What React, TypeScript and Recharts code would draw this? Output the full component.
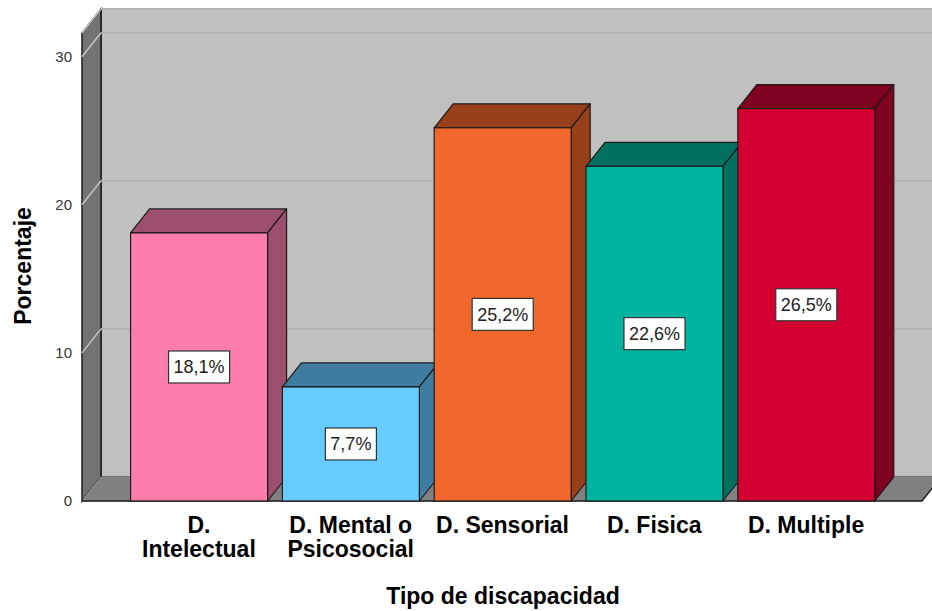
import React from "react";
import { BarChart, Bar, XAxis, YAxis, CartesianGrid, Cell, LabelList } from "recharts";

const categories = ["D. Intelectual", "D. Mental o Psicosocial", "D. Sensorial", "D. Fisica", "D. Multiple"];
const percentages = [18.1, 7.7, 25.2, 22.6, 26.5];
const yTicks = [0, 10, 20, 30];

const frontColors = ["#FF7DAD", "#66CCFF", "#F2682C", "#00B4A0", "#D50032"];
const darkColors = ["#9C506E", "#3E7DA0", "#983F1B", "#00705F", "#80001F"];

const data = categories.map((name, i) => ({ name, value: percentages[i] }));

const W = 932;
const H = 611;
const PLOT_LEFT = 82;
const PLOT_RIGHT = 922;
const PLOT_TOP = 33;
const PLOT_BOTTOM = 501;
const DX = 19;
const DY = 24;
const FONT = "'Liberation Sans', Arial, sans-serif";

let ctx: CanvasRenderingContext2D | null = null;
const measure = (s: string, font: string) => {
  if (!ctx) ctx = document.createElement("canvas").getContext("2d");
  if (!ctx) return s.length * 10;
  ctx.font = font;
  return ctx.measureText(s).width;
};

// wrap words into lines no wider than maxW
const wrap = (s: string, font: string, maxW: number) => {
  const words = s.split(" ");
  const lines: string[] = [];
  let cur = "";
  words.forEach((w) => {
    const next = cur ? cur + " " + w : w;
    if (cur && measure(next, font) > maxW) {
      lines.push(cur);
      cur = w;
    } else {
      cur = next;
    }
  });
  if (cur) lines.push(cur);
  return lines;
};

const Bar3D = (props: any) => {
  const { x, y, width, height, index, fill } = props;
  const dark = darkColors[index];
  const stroke = "#1c1c1c";
  return (
    <g>
      <polygon
        points={`${x},${y} ${x + DX},${y - DY} ${x + width + DX},${y - DY} ${x + width},${y}`}
        fill={dark}
        stroke={stroke}
        strokeWidth={1.2}
        strokeLinejoin="round"
      />
      <polygon
        points={`${x + width},${y} ${x + width + DX},${y - DY} ${x + width + DX},${y + height - DY} ${x + width},${y + height}`}
        fill={dark}
        stroke={stroke}
        strokeWidth={1.2}
        strokeLinejoin="round"
      />
      <rect x={x} y={y} width={width} height={height} fill={fill} stroke={stroke} strokeWidth={1.2} />
    </g>
  );
};

const ValueBox = (props: any) => {
  const { x, y, width, height, value } = props;
  const label = Number(value).toFixed(1).replace(".", ",") + "%";
  const tw = measure(label, `18px ${FONT}`);
  const bw = tw + 10;
  const bh = 32;
  const cx = x + width / 2;
  const cy = y + height / 2;
  return (
    <g>
      <rect x={cx - bw / 2} y={cy - bh / 2} width={bw} height={bh} fill="#ffffff" stroke="#333" strokeWidth={1.2} />
      <text x={cx} y={cy + 6.5} textAnchor="middle" fontSize={18} fontFamily={FONT} fill="#222">
        {label}
      </text>
    </g>
  );
};

const CategoryTick = (props: any) => {
  const { x, y, payload } = props;
  const font = `bold 23px ${FONT}`;
  const lines = wrap(String(payload.value), font, 138);
  return (
    <text x={x} y={y + 16} textAnchor="middle" fontSize={23} fontWeight="bold" fontFamily={FONT} fill="#000">
      {lines.map((l, i) => (
        <tspan key={i} x={x} dy={i === 0 ? 0 : 24}>
          {l}
        </tspan>
      ))}
    </text>
  );
};

const ValueTick = (props: any) => {
  const { x, y, payload } = props;
  return (
    <text x={x} y={y + 5} textAnchor="end" fontSize={15} fontFamily={FONT} fill="#333">
      {payload.value}
    </text>
  );
};

const GridLine = (props: any) => {
  const { y1, x2 } = props;
  if (Math.abs(y1 - PLOT_BOTTOM) < 1) return <g />;
  return (
    <g>
      <line x1={PLOT_LEFT} y1={y1} x2={PLOT_LEFT + DX} y2={y1 - DY} stroke="#c4c4c4" strokeWidth={1.5} />
      <line x1={PLOT_LEFT + DX} y1={y1 - DY} x2={x2 + DX + 20} y2={y1 - DY} stroke="#b2b2b2" strokeWidth={2} />
    </g>
  );
};

const Walls = () => (
  <svg width={W} height={H} style={{ position: "absolute", left: 0, top: 0 }}>
    <polygon
      points={`${PLOT_LEFT + DX},${PLOT_TOP - DY} ${W + 20},${PLOT_TOP - DY} ${W + 20},${PLOT_BOTTOM - DY} ${PLOT_LEFT + DX},${PLOT_BOTTOM - DY}`}
      fill="#c0c0c0"
      stroke="#1c1c1c"
      strokeWidth={1.5}
    />
    <polygon
      points={`${PLOT_LEFT},${PLOT_TOP} ${PLOT_LEFT + DX},${PLOT_TOP - DY} ${PLOT_LEFT + DX},${PLOT_BOTTOM - DY} ${PLOT_LEFT},${PLOT_BOTTOM}`}
      fill="#737373"
      stroke="#1c1c1c"
      strokeWidth={1.5}
    />
    <polygon
      points={`${PLOT_LEFT},${PLOT_BOTTOM} ${PLOT_LEFT + DX},${PLOT_BOTTOM - DY} ${PLOT_RIGHT + DX},${PLOT_BOTTOM - DY} ${PLOT_RIGHT},${PLOT_BOTTOM}`}
      fill="#808080"
      stroke="#9a9a9a"
      strokeWidth={1}
    />
    <line x1={PLOT_LEFT} y1={PLOT_BOTTOM} x2={PLOT_RIGHT} y2={PLOT_BOTTOM} stroke="#1c1c1c" strokeWidth={1.5} />
    <line x1={PLOT_RIGHT} y1={PLOT_BOTTOM} x2={PLOT_RIGHT + DX} y2={PLOT_BOTTOM - DY} stroke="#1c1c1c" strokeWidth={1.5} />
    <text
      transform={`translate(31, 266) rotate(-90)`}
      textAnchor="middle"
      fontSize={23}
      fontWeight="bold"
      fontFamily={FONT}
      fill="#000"
    >
      Porcentaje
    </text>
    <text x={503} y={604} textAnchor="middle" fontSize={23} fontWeight="bold" fontFamily={FONT} fill="#000">
      Tipo de discapacidad
    </text>
  </svg>
);

export default function App() {
  return (
    <div style={{ position: "absolute", left: 0, top: 0, width: W, height: H, background: "#fff", overflow: "hidden" }}>
      <Walls />
      <div style={{ position: "absolute", left: 0, top: 0 }}>
        <BarChart
          width={W}
          height={H}
          data={data}
          barCategoryGap="5%"
          margin={{ top: PLOT_TOP, right: W - PLOT_RIGHT, bottom: 0, left: 0 }}
        >
          <CartesianGrid vertical={false} horizontal={GridLine} />
          <XAxis
            dataKey="name"
            height={H - PLOT_BOTTOM}
            axisLine={false}
            tickLine={false}
            tickSize={0}
            tickMargin={16}
            interval={0}
            padding={{ left: 41, right: 40 }}
            tick={<CategoryTick />}
          />
          <YAxis
            width={PLOT_LEFT}
            domain={[0, 31.6]}
            ticks={yTicks}
            axisLine={false}
            tickLine={false}
            tickSize={0}
            tickMargin={10}
            tick={<ValueTick />}
          />
          <Bar dataKey="value" isAnimationActive={false} shape={<Bar3D />}>
            {data.map((d, i) => (
              <Cell key={d.name} fill={frontColors[i]} />
            ))}
            <LabelList dataKey="value" content={<ValueBox />} />
          </Bar>
        </BarChart>
      </div>
    </div>
  );
}
